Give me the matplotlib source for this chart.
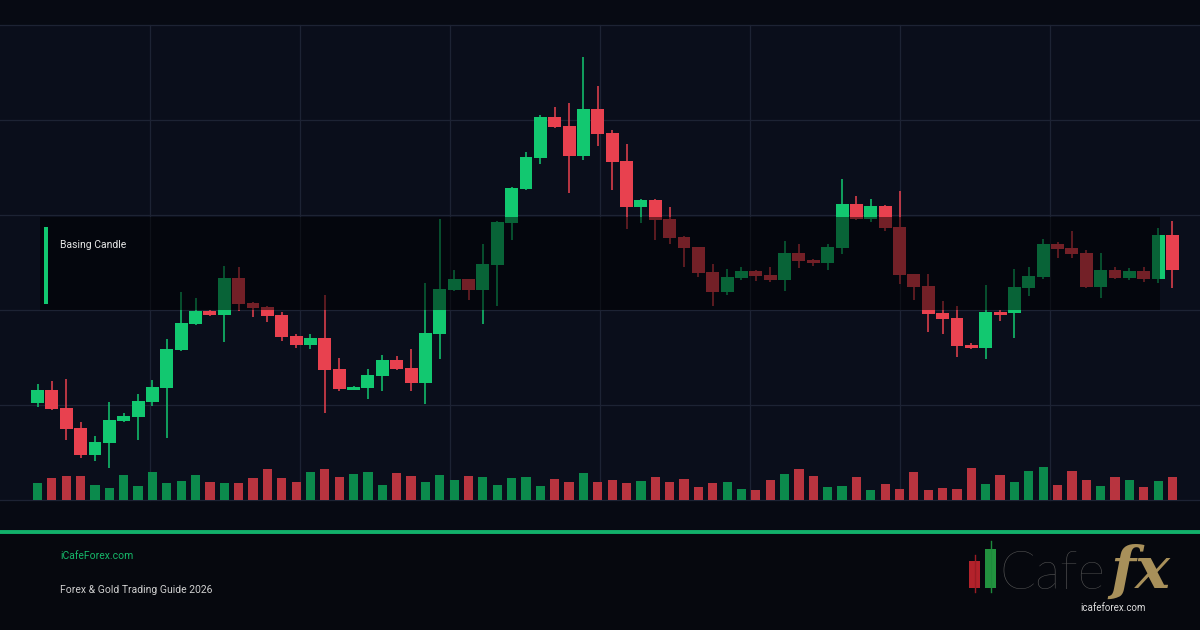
import numpy as np
import matplotlib.pyplot as plt
from matplotlib.patches import Rectangle

# OHLC prices (arbitrary price units)
opens = [110.24, 111.58, 109.68, 107.58, 104.74, 106.03, 108.32, 108.74, 110.32, 111.82,
         115.79, 118.53, 119.93, 119.51, 123.37, 120.77, 120.32, 119.47, 117.26, 116.32,
         117.05, 113.79, 111.61, 111.82, 113.05, 114.74, 113.89, 112.35, 117.47, 122.14,
         123.26, 122.14, 124.74, 129.19, 132.74, 136.00, 140.32, 139.37, 136.21, 141.16,
         138.63, 135.68, 130.87, 131.58, 129.58, 127.68, 126.63, 124.00, 121.93, 123.40,
         124.11, 123.68, 123.19, 126.00, 125.26, 124.98, 126.56, 131.16, 129.61, 130.95,
         128.74, 123.79, 122.53, 119.68, 119.19, 116.35, 116.03, 119.79, 119.72, 122.35,
         123.51, 126.95, 126.53, 126.00, 122.45, 124.21, 123.40, 124.11, 123.29, 127.89]
highs = [112.21, 112.53, 112.74, 108.21, 106.74, 110.32, 109.16, 111.16, 112.63, 116.95,
         121.89, 121.26, 120.00, 124.63, 124.56, 120.84, 120.42, 119.79, 117.47, 117.47,
         121.58, 114.95, 112.03, 113.79, 115.26, 115.16, 115.89, 122.84, 129.58, 124.21,
         123.30, 126.95, 129.37, 132.90, 136.63, 140.53, 141.37, 141.79, 146.63, 143.58,
         138.95, 137.47, 131.68, 131.68, 130.84, 127.74, 126.68, 124.84, 124.32, 124.53,
         124.16, 124.56, 127.26, 126.95, 125.32, 126.95, 133.79, 132.00, 131.68, 131.05,
         132.53, 123.84, 123.79, 120.95, 120.42, 116.56, 122.63, 120.00, 124.35, 124.56,
         127.47, 127.16, 128.32, 126.32, 126.00, 124.53, 124.45, 124.53, 128.63, 129.37]
lows = [109.82, 109.47, 106.32, 104.45, 104.14, 103.40, 108.21, 106.32, 109.89, 106.53,
        115.72, 118.42, 119.42, 116.66, 119.93, 119.29, 118.77, 116.77, 116.03, 115.89,
        109.16, 111.51, 111.53, 110.66, 111.51, 113.68, 111.51, 110.14, 114.84, 122.05,
        121.05, 118.53, 120.42, 127.37, 132.63, 135.37, 139.16, 132.32, 135.79, 137.26,
        132.63, 128.53, 129.19, 127.40, 126.98, 124.56, 123.51, 120.45, 121.61, 123.19,
        123.08, 122.95, 122.03, 124.45, 124.66, 124.24, 125.93, 129.51, 129.29, 128.35,
        122.77, 121.08, 117.72, 117.51, 115.08, 115.93, 114.87, 118.87, 117.08, 121.51,
        123.29, 125.51, 125.51, 122.35, 121.29, 123.29, 123.16, 122.98, 122.87, 122.35]
closes = [111.58, 109.58, 107.51, 104.74, 106.11, 108.42, 108.84, 110.42, 111.89, 115.89,
          118.66, 119.89, 119.51, 123.37, 120.63, 120.24, 119.40, 117.19, 116.32, 117.05,
          113.68, 111.68, 111.93, 113.16, 114.74, 113.79, 112.35, 117.58, 122.21, 123.26,
          122.14, 124.84, 129.29, 132.84, 136.11, 140.32, 139.26, 136.21, 141.16, 138.53,
          135.58, 130.87, 131.58, 129.51, 127.61, 126.56, 123.93, 121.93, 123.47, 124.11,
          123.58, 123.19, 126.00, 125.19, 124.98, 126.63, 131.16, 129.61, 130.95, 128.66,
          123.72, 122.45, 119.61, 119.08, 116.24, 116.03, 119.79, 119.51, 122.42, 123.58,
          126.95, 126.45, 125.93, 122.45, 124.21, 123.40, 124.11, 123.29, 127.89, 124.24]
volumes = [1670, 2170, 2370, 2370, 1470, 1170, 2470, 1370, 2770, 1670,
           1870, 2470, 1770, 1670, 1670, 2170, 3070, 2170, 1770, 2770,
           3070, 2270, 2570, 2770, 1470, 2670, 2370, 1770, 2470, 1970,
           2370, 2270, 1470, 2170, 2270, 1370, 2070, 1770, 2670, 1770,
           1970, 1670, 1870, 2270, 1770, 2070, 1270, 1670, 1770, 1070,
           970, 1970, 2570, 3070, 2370, 1270, 1370, 2270, 970, 1570,
           1070, 2770, 970, 1170, 1070, 3170, 1570, 2470, 1770, 2870,
           3270, 1470, 2870, 1970, 1370, 2270, 1970, 1270, 1870, 2270]

zone_low, zone_high = 120.0, 129.8   # basing candle zone
zone_first, zone_last = 0.17, 78.13  # candle index span of the zone

GREEN, RED = '#12c870', '#e8414f'
VGREEN, VRED = '#0b8a4c', '#b8343f'

W, H = 1200, 630
fig = plt.figure(figsize=(12, 6.3), dpi=100)
fig.patch.set_facecolor('#070a13')

# background / grid in pixel coordinates
bg = fig.add_axes([0, 0, 1, 1], zorder=0)
bg.set_xlim(0, W)
bg.set_ylim(H, 0)
bg.axis('off')
bg.add_patch(Rectangle((0, 25), W, 475, color='#0a0e1b', lw=0))
bg.add_patch(Rectangle((0, 534), W, 96, color='#06080e', lw=0))
for gy in range(25, 501, 95):
    bg.plot([0, W], [gy, gy], color='#1d2334', lw=0.9)
for gx in range(150, W, 150):
    bg.plot([gx, gx], [25, 500], color='#1d2334', lw=0.9)
bg.plot([0, W], [531.5, 531.5], color='#12b06a', lw=2.8, solid_capstyle='butt')

# price axes: 9.5 px per price unit, price 100 at y=500 px, candles 14.367 px apart
step = 14.367
x0 = 37.5
xlim = (-x0 / step, (W - x0) / step)
ax = fig.add_axes([0, 100 / H, 1, 530 / H], zorder=1)
ax.set_xlim(*xlim)
ax.set_ylim(100 - 30 / 9.5, 150 + 25 / 9.5)
ax.axis('off')
ax.patch.set_alpha(0)

idx = np.arange(len(opens))
o, h, l, c = map(np.array, (opens, highs, lows, closes))
up = c >= o
cols = np.where(up, GREEN, RED)
ax.vlines(idx, l, h, colors=cols, lw=1.1, zorder=2)
body_lo = np.minimum(o, c)
body_h = np.maximum(np.abs(c - o), 0.15)
ax.bar(idx, body_h, bottom=body_lo, width=0.9, color=cols, lw=0, zorder=3)

# volume axes
vax = fig.add_axes([0, 130 / H, 1, 40 / H], zorder=1)
vax.set_xlim(*xlim)
vax.set_ylim(0, 4000)
vax.axis('off')
vax.patch.set_alpha(0)
vax.bar(idx, volumes, width=0.64, color=np.where(up, VGREEN, VRED), lw=0)

# basing zone overlay dims the candles below it
ax.add_patch(Rectangle((zone_first, zone_low), zone_last - zone_first, zone_high - zone_low,
                       color='black', alpha=0.5, lw=0, zorder=5))

ov = fig.add_axes([0, 0, 1, 1], zorder=3)
ov.set_xlim(0, W)
ov.set_ylim(H, 0)
ov.axis('off')
ov.patch.set_alpha(0)
ov.add_patch(Rectangle((44, 227), 4, 77, color='#12c870', lw=0))
ov.text(60, 245, 'Basing Candle', color='#e6e6e6', fontsize=7.5, family='Roboto', va='center')
ov.text(60, 556, 'iCafeForex.com', color='#16b86a', fontsize=7.5, family='Roboto', va='center')
ov.text(60, 590, 'Forex & Gold Trading Guide 2026', color='#cfcfcf', fontsize=7.5,
        family='Roboto', va='center')

# logo
ov.plot([974.5, 974.5], [555, 592], color='#9b1c24', lw=1)
ov.add_patch(Rectangle((969, 561), 11, 27, color='#b3222b', lw=0))
ov.plot([990.5, 990.5], [541, 592], color='#1d8a3b', lw=1)
ov.add_patch(Rectangle((985, 549), 11, 39, color='#22923f', lw=0))
ov.text(999, 589, 'Cafe', color='#565656', fontsize=38, family='Lato', fontweight='light',
        va='baseline')
ov.text(1110, 588, 'fx', color='#a8905a', fontsize=42, family='DejaVu Serif',
        style='italic', fontweight='bold', va='baseline')
ov.text(1080, 608, 'icafeforex.com', color='#dddddd', fontsize=7, family='Roboto', va='center')

fig.savefig('out.png', dpi=100, facecolor=fig.get_facecolor())
